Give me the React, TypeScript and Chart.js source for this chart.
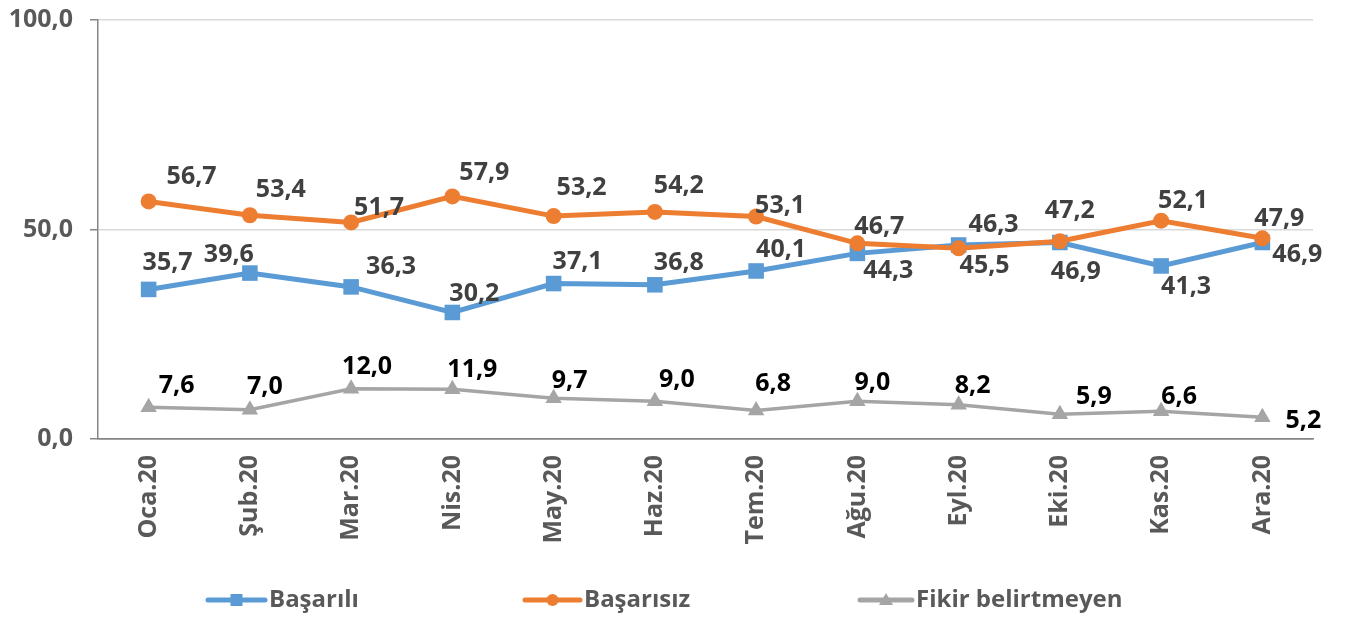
import React, { useEffect, useRef } from "react";
import { Chart, registerables } from "chart.js";

Chart.register(...registerables);

const months = ["Oca.20", "Şub.20", "Mar.20", "Nis.20", "May.20", "Haz.20", "Tem.20", "Ağu.20", "Eyl.20", "Eki.20", "Kas.20", "Ara.20"];
const basarili = [35.7, 39.6, 36.3, 30.2, 37.1, 36.8, 40.1, 44.3, 46.3, 46.9, 41.3, 46.9];
const basarisiz = [56.7, 53.4, 51.7, 57.9, 53.2, 54.2, 53.1, 46.7, 45.5, 47.2, 52.1, 47.9];
const fikir = [7.6, 7.0, 12.0, 11.9, 9.7, 9.0, 6.8, 9.0, 8.2, 5.9, 6.6, 5.2];
const yTicks = [0, 50, 100];

// label offsets (styling) relative to each point, in px
const offBasarili = [[19, -27], [-21, -18], [40, -20], [22, -19], [24, -22], [24, -22], [25, -21], [31, 17], [35, -20], [16, 29], [25, 21], [35, 12]];
const offBasarisiz = [[43, -25], [31, -25], [28, -15], [32, -24], [28, -28], [24, -26], [24, -11], [22, -16], [26, 18], [10, -30], [22, -20], [17, -19]];
const offFikir = [[28, -21], [15, -23], [16, -22], [20, -19], [16, -17], [22, -21], [17, -27], [15, -18], [14, -19], [34, -17], [18, -14], [41, 4]];

const BLUE = "#5b9bd5";
const ORANGE = "#ed7d31";
const GRAY = "#a5a5a5";
const FONT = "'Open Sans', sans-serif";

const fmt = (v: number) => v.toFixed(1).replace(".", ",");

const labelsPlugin = {
  id: "pointLabels",
  afterDatasetsDraw(chart: any) {
    const ctx = chart.ctx;
    ctx.save();
    ctx.font = `bold 25px ${FONT}`;
    ctx.textAlign = "center";
    ctx.textBaseline = "middle";
    chart.data.datasets.forEach((ds: any, i: number) => {
      const meta = chart.getDatasetMeta(i);
      ctx.fillStyle = ds.labelColor;
      meta.data.forEach((el: any, j: number) => {
        const off = ds.labelOffsets[j];
        ctx.fillText(fmt(ds.data[j]), el.x + off[0], el.y + off[1]);
      });
    });
    ctx.restore();
  },
};

const legendItems = [
  { text: "Başarılı", color: BLUE, style: "rect", x1: 208, x2: 265 },
  { text: "Başarısız", color: ORANGE, style: "circle", x1: 525, x2: 580 },
  { text: "Fikir belirtmeyen", color: GRAY, style: "triangle", x1: 860, x2: 912 },
];

const legendPlugin = {
  id: "excelLegend",
  afterDraw(chart: any) {
    const ctx = chart.ctx;
    const y = 600;
    ctx.save();
    legendItems.forEach((it) => {
      ctx.strokeStyle = it.color;
      ctx.lineWidth = 5;
      ctx.lineCap = "round";
      ctx.beginPath();
      ctx.moveTo(it.x1, y);
      ctx.lineTo(it.x2, y);
      ctx.stroke();
      ctx.fillStyle = it.color;
      const cx = (it.x1 + it.x2) / 2;
      ctx.beginPath();
      if (it.style === "rect") {
        ctx.rect(cx - 6, y - 6, 12, 12);
      } else if (it.style === "circle") {
        ctx.arc(cx, y, 6, 0, Math.PI * 2);
      } else {
        ctx.moveTo(cx, y - 7);
        ctx.lineTo(cx + 7, y + 5);
        ctx.lineTo(cx - 7, y + 5);
        ctx.closePath();
      }
      ctx.fill();
      ctx.fillStyle = "#595959";
      ctx.font = `bold 24px ${FONT}`;
      ctx.textAlign = "left";
      ctx.textBaseline = "middle";
      ctx.fillText(it.text, it.x2 + 4, y);
    });
    ctx.restore();
  },
};

export default function App() {
  const ref = useRef<HTMLCanvasElement | null>(null);

  useEffect(() => {
    if (!ref.current) return;
    const chart = new Chart(ref.current, {
      type: "line",
      data: {
        labels: months,
        datasets: [
          {
            label: "Başarılı",
            data: basarili,
            borderColor: BLUE,
            backgroundColor: BLUE,
            borderWidth: 5,
            pointStyle: "rect",
            pointRadius: 11,
            pointBorderWidth: 0,
            order: 1,
            labelColor: "#404040",
            labelOffsets: offBasarili,
          } as any,
          {
            label: "Başarısız",
            data: basarisiz,
            borderColor: ORANGE,
            backgroundColor: ORANGE,
            borderWidth: 5,
            pointStyle: "circle",
            pointRadius: 8,
            pointBorderWidth: 0,
            order: 0,
            labelColor: "#404040",
            labelOffsets: offBasarisiz,
          } as any,
          {
            label: "Fikir belirtmeyen",
            data: fikir,
            borderColor: GRAY,
            backgroundColor: GRAY,
            borderWidth: 3.5,
            pointStyle: "triangle",
            pointRadius: 9.5,
            pointBorderWidth: 0,
            order: 2,
            labelColor: "#000000",
            labelOffsets: offFikir,
          } as any,
        ],
      },
      options: {
        animation: false,
        responsive: true,
        maintainAspectRatio: false,
        layout: { padding: { top: 20, right: 39, left: 0, bottom: 0 } },
        plugins: {
          legend: { display: false },
          tooltip: { enabled: false },
        },
        scales: {
          x: {
            offset: true,
            grid: { display: false, drawTicks: false },
            border: { display: true, color: "#868686", width: 1.5 },
            ticks: {
              autoSkip: false,
              minRotation: 90,
              maxRotation: 90,
              padding: 16,
              color: "#595959",
              font: { family: FONT, size: 25, weight: "bold" },
            },
            afterFit: (s: any) => {
              s.height = 178;
              s.paddingLeft = 0;
              s.paddingRight = 0;
              s.paddingTop = 0;
              s.paddingBottom = 0;
            },
          },
          y: {
            min: 0,
            max: 100,
            afterBuildTicks: (s: any) => {
              s.ticks = yTicks.map((v) => ({ value: v }));
            },
            grid: {
              color: (c: any) => (c.tick && c.tick.value === 0 ? "#868686" : "#d9d9d9"),
              lineWidth: 1.5,
              tickColor: "#868686",
              tickLength: 8,
            },
            border: { display: true, color: "#868686", width: 1.5 },
            ticks: {
              padding: 17,
              color: "#595959",
              font: { family: FONT, size: 25, weight: "bold" },
              callback: (v: any) => fmt(Number(v)),
            },
            afterFit: (s: any) => {
              s.width = 98;
              s.paddingTop = 0;
              s.paddingBottom = 0;
            },
          },
        },
      } as any,
      plugins: [labelsPlugin, legendPlugin],
    });
    return () => chart.destroy();
  }, []);

  return (
    <div style={{ position: "fixed", left: 0, top: 0, width: 1352, height: 617, background: "#fff" }}>
      <canvas ref={ref} />
    </div>
  );
}
